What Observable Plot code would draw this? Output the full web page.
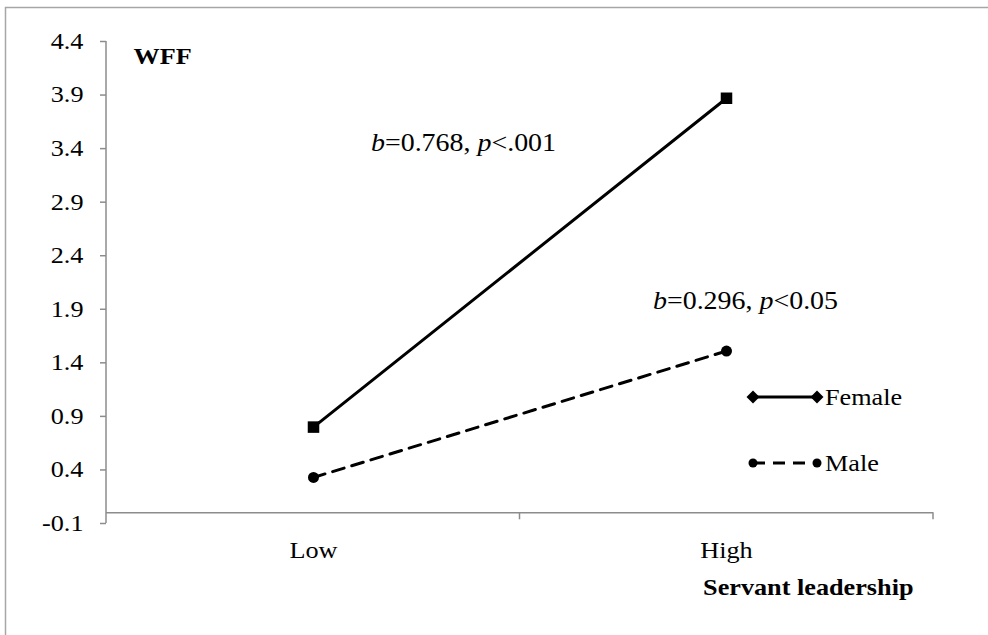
<!DOCTYPE html>
<html><head><meta charset="utf-8">
<script src="https://cdn.jsdelivr.net/npm/d3@7"></script>
<script src="https://cdn.jsdelivr.net/npm/@observablehq/plot@0.6"></script>
<style>body{margin:0;background:#fff} #chart{position:relative;width:988px;height:635px;overflow:hidden}</style>
</head><body><div id="chart"></div>
<script>
const categories = ["Low", "High"];
const femaleValues = [0.80, 3.87];
const maleValues = [0.33, 1.51];
const yTicks = [-0.1, 0.4, 0.9, 1.4, 1.9, 2.4, 2.9, 3.4, 3.9, 4.4];
const seriesNames = ["Female", "Male"];
const annotationTexts = ["b=0.768, p<.001", "b=0.296, p<0.05"];
const yLabel = "WFF";
const xLabel = "Servant leadership";

const female = categories.map((c, i) => ({cat: c, value: femaleValues[i]}));
const male = categories.map((c, i) => ({cat: c, value: maleValues[i]}));

const font = "'Liberation Serif','Times New Roman',serif";
const FS = 23;
const FS_ANN = 24.5;
const SX = 1.14;
const gray = "#8c8c8c";

const plot = Plot.plot({
  width: 988, height: 635,
  marginLeft: 106, marginRight: 55, marginTop: 41, marginBottom: 112,
  style: {fontFamily: font, fontSize: FS + "px", background: "white", color: "black", overflow: "visible"},
  x: {type: "point", domain: categories, padding: 0.5},
  y: {domain: [-0.1, 4.4]},
  marks: [
    Plot.axisY({ticks: yTicks, tickFormat: d => d.toFixed(1), tickSize: 6, tickPadding: 17, stroke: gray, strokeWidth: 1.5, fill: "black", fontSize: FS, label: null}),
    Plot.axisX({tickSize: 0, tickPadding: 18, fill: "black", fontSize: FS, label: null}),
    Plot.ruleY([0], {stroke: gray, strokeWidth: 1.5}),
    Plot.line(female, {x: "cat", y: "value", stroke: "black", strokeWidth: 3}),
    Plot.dot(female, {x: "cat", y: "value", symbol: "square", r: 6.5, fill: "black"}),
    Plot.line(male, {x: "cat", y: "value", stroke: "black", strokeWidth: 3, strokeDasharray: "12,8"}),
    Plot.dot(male, {x: "cat", y: "value", symbol: "circle", r: 5.5, fill: "black"}),
    Plot.text([annotationTexts[0]], {text: d => d, frameAnchor: "top-left", dx: 357, dy: 102, textAnchor: "middle", lineAnchor: "middle", fontSize: FS_ANN}),
    Plot.text([annotationTexts[1]], {text: d => d, frameAnchor: "top-left", dx: 639, dy: 260, textAnchor: "middle", lineAnchor: "middle", fontSize: FS_ANN}),
    Plot.text([yLabel], {text: d => d, frameAnchor: "top-left", dx: 27, dy: 15, textAnchor: "start", lineAnchor: "middle", fontWeight: "bold", fontSize: FS}),
    Plot.text([xLabel], {text: d => d, frameAnchor: "bottom-right", dx: -20, dy: 64, textAnchor: "end", lineAnchor: "middle", fontWeight: "bold", fontSize: FS})
  ]
});

document.getElementById("chart").appendChild(plot);

const svg = d3.select(plot);
const xs = plot.scale("x"), ys = plot.scale("y");
const [xL, xR] = xs.range;
const yTop = ys.apply(4.4), yBot = ys.apply(-0.1), y0 = ys.apply(0);

// y axis line
svg.append("line").attr("x1", xL).attr("x2", xL).attr("y1", yTop).attr("y2", yBot)
  .attr("stroke", gray).attr("stroke-width", 1.5);
// category separator ticks on x axis
const step = (xR - xL) / categories.length;
for (let i = 1; i <= categories.length; i++) {
  const xx = xL + step * i;
  svg.append("line").attr("x1", xx).attr("x2", xx).attr("y1", y0).attr("y2", y0 + 7)
    .attr("stroke", gray).attr("stroke-width", 1.5);
}
// outer border (top and left visible)
svg.append("path").attr("d", "M5.5,700V7.5H1000").attr("fill", "none").attr("stroke", "#a6a6a6").attr("stroke-width", 1.5);

// italic b and p in annotations
svg.selectAll("text").each(function() {
  const t = this.textContent;
  if (annotationTexts.includes(t)) {
    const sel = d3.select(this);
    sel.text("");
    const m = t.match(/^(b)(=[^p]*)(p)(.*)$/);
    sel.append("tspan").attr("font-style", "italic").text(m[1]);
    sel.append("tspan").text(m[2]);
    sel.append("tspan").attr("font-style", "italic").text(m[3]);
    sel.append("tspan").text(m[4]);
  }
});

// legend
const legX0 = 753, legX1 = 817, legRows = [397, 463];
const lg = svg.append("g");
seriesNames.forEach((name, i) => {
  const yy = legRows[i];
  lg.append("line").attr("x1", legX0).attr("x2", legX1).attr("y1", yy).attr("y2", yy)
    .attr("stroke", "black").attr("stroke-width", 3).attr("stroke-dasharray", i === 0 ? null : "12,8");
  [legX0, legX1].forEach(xx => {
    if (i === 0) {
      lg.append("path").attr("d", `M${xx},${yy - 6.5}L${xx + 6.5},${yy}L${xx},${yy + 6.5}L${xx - 6.5},${yy}Z`).attr("fill", "black");
    } else {
      lg.append("circle").attr("cx", xx).attr("cy", yy).attr("r", 4.5).attr("fill", "black");
    }
  });
  lg.append("text").attr("x", legX1 + 8).attr("y", yy).attr("dy", "0.35em").attr("text-anchor", "start")
    .attr("font-family", font).attr("font-size", FS).attr("fill", "black").text(name);
});

// horizontal stretch of text to match the reference's wide glyphs
svg.selectAll("text").each(function() {
  const bb = this.getBBox();
  const anchor = getComputedStyle(this).textAnchor;
  const cx = anchor === "middle" ? bb.x + bb.width / 2 : anchor === "end" ? bb.x + bb.width : bb.x;
  const prev = this.getAttribute("transform") || "";
  this.setAttribute("transform", `${prev} translate(${cx},0) scale(${SX},1) translate(${-cx},0)`);
});
</script>
</body></html>
